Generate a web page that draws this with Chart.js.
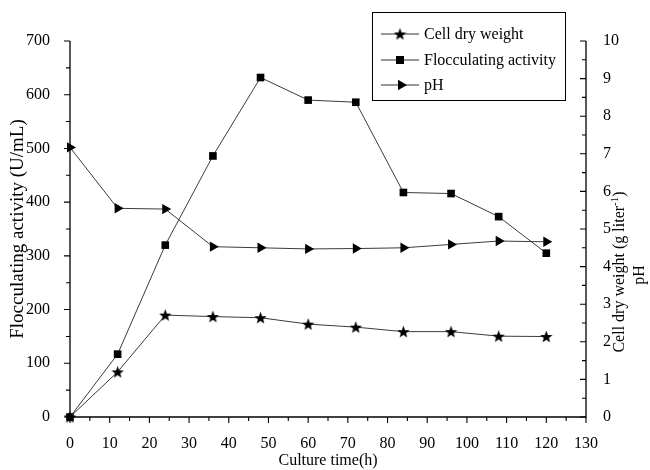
<!DOCTYPE html>
<html>
<head>
<meta charset="utf-8">
<script src="https://cdn.jsdelivr.net/npm/chart.js@4.4.0/dist/chart.umd.min.js"></script>
<style>
html, body { margin: 0; padding: 0; background: #fff; }
</style>
</head>
<body>
<canvas id="culture_chart" width="650" height="470"></canvas>
<script>
// data
var culture_time = [0, 12, 24, 36, 48, 60, 72, 84, 96, 108, 120];
var flocculating_activity = [0, 117, 320, 486, 632, 590, 586, 418, 416, 373, 305];
var cell_dry_weight = [0, 1.2, 2.71, 2.67, 2.64, 2.47, 2.39, 2.27, 2.27, 2.15, 2.14];
var ph_value = [7.17, 5.55, 5.53, 4.53, 4.50, 4.47, 4.48, 4.50, 4.59, 4.68, 4.66];

var series_names = ['Cell dry weight', 'Flocculating activity', 'pH'];
var x_range = [0, 130, 10];
var left_range = [0, 700, 100];
var right_range = [0, 10, 1];

var FONT = "'Liberation Serif', 'Times New Roman', serif";

function toPoints(xs, ys) {
    var out = [];
    for (var i = 0; i < xs.length; i++) out.push({ x: xs[i], y: ys[i] });
    return out;
}

// filled five point star, chart.js has only the outline one
function makeStar(size) {
    var c = document.createElement('canvas');
    c.width = size; c.height = size;
    var g = c.getContext('2d');
    var R = size / 2, r = R * 0.42;
    g.beginPath();
    for (var i = 0; i < 10; i++) {
        var a = -Math.PI / 2 + i * Math.PI / 5;
        var rr = (i % 2 == 0) ? R : r;
        g.lineTo(R + rr * Math.cos(a), R + 0.6 + rr * Math.sin(a));
    }
    g.closePath();
    g.fillStyle = '#000';
    g.fill();
    return c;
}
var star_img = makeStar(13);

function drawTriangle(ctx, x, y, r) {
    ctx.beginPath();
    ctx.moveTo(x + r, y);
    ctx.lineTo(x - r * 0.5, y - r * 0.866);
    ctx.lineTo(x - r * 0.5, y + r * 0.866);
    ctx.closePath();
    ctx.fill();
}

// axis lines, major/minor ticks, right titles and legend
var decorPlugin = {
    id: 'decor',
    afterDraw: function (chart) {
        var ctx = chart.ctx;
        var a = chart.chartArea;
        var xs = chart.scales.x, ys = chart.scales.y, y1 = chart.scales.y1;
        ctx.save();
        ctx.strokeStyle = '#000';
        ctx.lineWidth = 1.3;
        ctx.beginPath();
        ctx.moveTo(a.left, a.top); ctx.lineTo(a.left, a.bottom);
        ctx.lineTo(a.right, a.bottom); ctx.lineTo(a.right, a.top);
        ctx.stroke();

        ctx.lineWidth = 1.1;
        ctx.beginPath();
        for (var v = left_range[0]; v <= left_range[1]; v += left_range[2] / 2) {
            var py = ys.getPixelForValue(v);
            var len = (v % left_range[2] == 0) ? 6 : 4;
            ctx.moveTo(a.left, py); ctx.lineTo(a.left - len, py);
        }
        for (var t = x_range[0]; t <= x_range[1]; t += x_range[2] / 2) {
            var px = xs.getPixelForValue(t);
            var len2 = (t % x_range[2] == 0) ? 6 : 4;
            ctx.moveTo(px, a.bottom); ctx.lineTo(px, a.bottom + len2);
        }
        for (var w = right_range[0]; w <= right_range[1] + 0.001; w += right_range[2] / 2) {
            var py2 = y1.getPixelForValue(w);
            var len3 = (Math.abs(w - Math.round(w)) < 0.01) ? 6 : 4;
            ctx.moveTo(a.right, py2); ctx.lineTo(a.right - len3, py2);
        }
        ctx.stroke();

        // right axis titles, reading upward
        ctx.fillStyle = '#000';
        ctx.textBaseline = 'middle';
        ctx.font = '16px ' + FONT;
        var t1 = 'Cell dry weight (g liter', sup = '-1', t2 = ')';
        var w1 = ctx.measureText(t1).width, w3 = ctx.measureText(t2).width;
        ctx.font = '11px ' + FONT;
        var w2 = ctx.measureText(sup).width;
        var total = w1 + w2 + w3;
        var cy = 272;
        ctx.save();
        ctx.translate(620, cy);
        ctx.rotate(-Math.PI / 2);
        ctx.textAlign = 'left';
        ctx.font = '16px ' + FONT;
        ctx.fillText(t1, -total / 2, 0);
        ctx.font = '11px ' + FONT;
        ctx.fillText(sup, -total / 2 + w1, -5);
        ctx.font = '16px ' + FONT;
        ctx.fillText(t2, -total / 2 + w1 + w2, 0);
        ctx.restore();

        ctx.save();
        ctx.translate(640, 275);
        ctx.rotate(-Math.PI / 2);
        ctx.textAlign = 'center';
        ctx.font = '16px ' + FONT;
        ctx.fillText('pH', 0, 0);
        ctx.restore();

        // legend box
        ctx.lineWidth = 1;
        ctx.strokeRect(372.5, 12.5, 193, 88);
        var rows = [34, 60, 85];
        ctx.textAlign = 'left';
        ctx.font = '16px ' + FONT;
        for (var i = 0; i < 3; i++) {
            var ry = rows[i];
            ctx.strokeStyle = '#333';
            ctx.beginPath();
            ctx.moveTo(381, ry); ctx.lineTo(419, ry);
            ctx.stroke();
            ctx.fillStyle = '#000';
            if (i == 0) ctx.drawImage(star_img, 400 - 6.5, ry - 6.5);
            else if (i == 1) ctx.fillRect(396, ry - 4, 8, 8);
            else drawTriangle(ctx, 401, ry, 6);
            ctx.fillText(series_names[i], 424, ry + 1);
        }
        ctx.restore();
    }
};

var ctx_el = document.getElementById('culture_chart');
var culture_chart = new Chart(ctx_el, {
    type: 'line',
    data: {
        datasets: [{
            label: series_names[0],
            data: toPoints(culture_time, cell_dry_weight),
            yAxisID: 'y1',
            borderColor: '#3a3a3a',
            borderWidth: 1,
            pointStyle: star_img,
            pointRadius: 6,
            clip: false,
        },
        {
            label: series_names[1],
            data: toPoints(culture_time, flocculating_activity),
            yAxisID: 'y',
            borderColor: '#3a3a3a',
            borderWidth: 1,
            pointStyle: 'rect',
            pointRadius: 5.4,
            pointBackgroundColor: '#000',
            pointBorderWidth: 0,
            clip: false,
        },
        {
            label: series_names[2],
            data: toPoints(culture_time, ph_value),
            yAxisID: 'y1',
            borderColor: '#3a3a3a',
            borderWidth: 1,
            pointStyle: 'triangle',
            pointRotation: 90,
            pointRadius: 6,
            pointBackgroundColor: '#000',
            pointBorderWidth: 0,
            clip: false,
        }
        ]
    },
    options: {
        responsive: false,
        animation: false,
        layout: { padding: { top: 41, left: 0, right: 0, bottom: 0 } },
        plugins: {
            legend: { display: false },
            tooltip: { enabled: false },
        },
        scales: {
            x: {
                type: 'linear',
                position: 'bottom',
                min: x_range[0],
                max: x_range[1],
                grid: { display: false },
                border: { display: false },
                ticks: {
                    stepSize: x_range[2],
                    color: '#000',
                    padding: 9,
                    maxRotation: 0,
                    font: { family: FONT, size: 16 },
                },
                title: {
                    display: true,
                    text: 'Culture time(h)',
                    color: '#000',
                    padding: { top: 0, bottom: 0 },
                    font: { family: FONT, size: 16 },
                },
                afterFit: function (scale) { scale.height = 53; }
            },
            y: {
                type: 'linear',
                position: 'left',
                min: left_range[0],
                max: left_range[1],
                grid: { display: false },
                border: { display: false },
                ticks: {
                    stepSize: left_range[2],
                    color: '#000',
                    padding: 12,
                    font: { family: FONT, size: 16 },
                },
                title: {
                    display: true,
                    text: 'Flocculating activity (U/mL)',
                    color: '#000',
                    padding: { top: 7, bottom: 0 },
                    font: { family: FONT, size: 19 },
                },
                afterFit: function (scale) { scale.width = 70; }
            },
            y1: {
                type: 'linear',
                position: 'right',
                min: right_range[0],
                max: right_range[1],
                grid: { display: false },
                border: { display: false },
                ticks: {
                    stepSize: right_range[2],
                    color: '#000',
                    padding: 9,
                    font: { family: FONT, size: 16 },
                },
                afterFit: function (scale) { scale.width = 64; }
            }
        }
    },
    plugins: [decorPlugin]
});
</script>
</body>
</html>
